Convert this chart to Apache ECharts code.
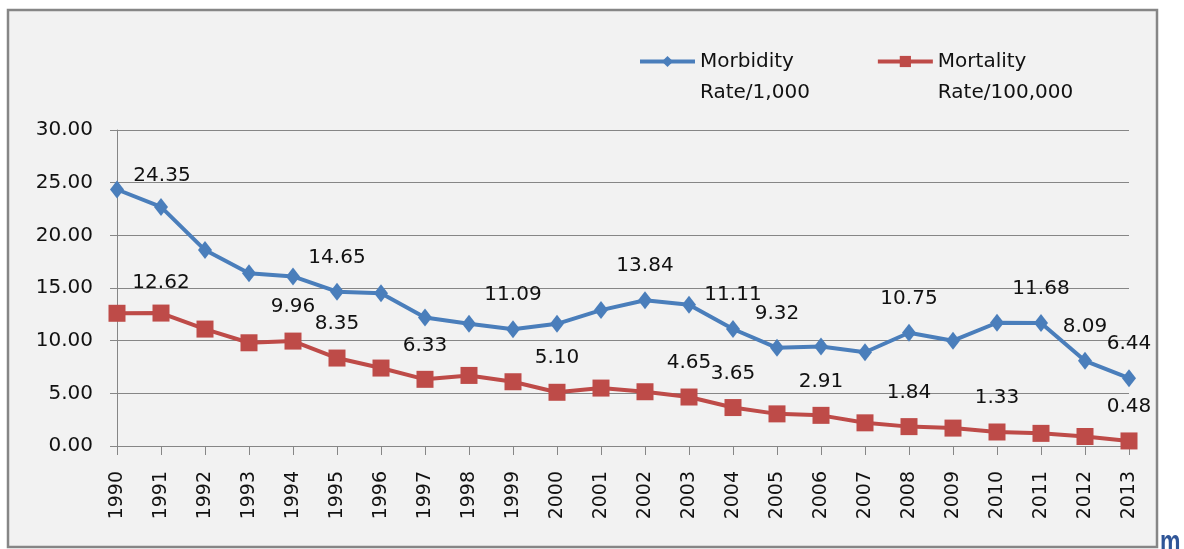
<!DOCTYPE html>
<html>
<head>
<meta charset="utf-8">
<script src="https://cdn.jsdelivr.net/npm/echarts@6/dist/echarts.min.js"></script>
<style>
  html, body { margin: 0; padding: 0; background: #ffffff; }
  #chart { width: 1184px; height: 549px; }
</style>
</head>
<body>
<div id="chart"></div>
<script>
// years on the x axis
const years = ['1990', '1991', '1992', '1993', '1994', '1995', '1996', '1997', '1998', '1999', '2000', '2001',
  '2002', '2003', '2004', '2005', '2006', '2007', '2008', '2009', '2010', '2011', '2012', '2013']

// morbidity rate per 1,000 (labelled points exact, others)
const morbidity = [24.35, 22.7, 18.6, 16.4, 16.1, 14.65, 14.5, 12.2, 11.6, 11.09, 11.6, 12.9,
  13.84, 13.4, 11.11, 9.32, 9.45, 8.9, 10.75, 10.0, 11.7, 11.68, 8.09, 6.44]

// mortality rate per 100,000
const mortality = [12.6, 12.62, 11.1, 9.8, 9.96, 8.35, 7.4, 6.33, 6.7, 6.1, 5.10, 5.5,
  5.15, 4.65, 3.65, 3.05, 2.91, 2.2, 1.84, 1.7, 1.33, 1.2, 0.9, 0.48]

// which points carry a value label
const morbidityLabelled = [0, 5, 9, 12, 14, 15, 18, 21, 22, 23]
const mortalityLabelled = [1, 4, 5, 7, 10, 13, 14, 16, 18, 20, 23]

const yTicks = [0, 5, 10, 15, 20, 25, 30]

const FONT = 'DejaVu Sans'
const BLUE = '#4a7ebb'
const RED = '#be4b48'
const GRID_COLOR = '#868686'

function buildData(values, labelled, special) {
  return values.map((v, i) => {
    const item = { value: v, label: { show: labelled.includes(i) } }
    if (special && special[i]) item.label.offset = special[i]
    return item
  })
}

const labelStyle = {
  position: 'inside',
  offset: [0, -34],
  color: '#111',
  fontFamily: FONT,
  fontSize: 20,
  formatter: (p) => p.value.toFixed(2),
}

const chart = echarts.init(document.getElementById('chart'))

const option = {
  backgroundColor: '#ffffff',
  animation: false,
  graphic: [
    {
      type: 'rect',
      z: -10,
      shape: { x: 8, y: 10, width: 1149, height: 537 },
      style: { fill: '#f2f2f2', stroke: GRID_COLOR, lineWidth: 2.5 },
    },
    {
      type: 'text',
      x: 1160,
      y: 527,
      scaleX: 0.72,
      style: { text: 'm', fill: '#2f5597', font: 'bold 32px "Liberation Sans"' },
    },
  ],
  legend: {
    left: 638,
    top: 15,
    padding: 0,
    itemWidth: 55,
    itemHeight: 14,
    itemGap: 66,
    lineStyle: { width: 4 },
    // leading empty line keeps the icon level with the first text line
    formatter: (name) => '\n' + name,
    textStyle: {
      fontFamily: FONT,
      fontSize: 20,
      color: '#111',
      lineHeight: 31,
    },
    data: ['Morbidity\nRate/1,000', 'Mortality\nRate/100,000'],
  },
  grid: { left: 117, right: 55, top: 130, bottom: 103 },
  xAxis: {
    type: 'category',
    data: years,
    boundaryGap: false,
    axisLine: { lineStyle: { color: GRID_COLOR, width: 1 } },
    axisTick: { show: true, length: 9, lineStyle: { color: GRID_COLOR } },
    axisLabel: { rotate: 90, margin: 25, fontFamily: FONT, fontSize: 19, color: '#111' },
  },
  yAxis: {
    type: 'value',
    min: yTicks[0],
    max: yTicks[yTicks.length - 1],
    interval: yTicks[1] - yTicks[0],
    axisLine: { show: true, lineStyle: { color: GRID_COLOR, width: 1 } },
    axisTick: { show: true, length: 7, lineStyle: { color: GRID_COLOR } },
    splitLine: { lineStyle: { color: GRID_COLOR, width: 1 } },
    axisLabel: {
      margin: 24,
      fontFamily: FONT,
      fontSize: 20,
      color: '#111',
      formatter: (v) => v.toFixed(2),
    },
  },
  series: [
    {
      name: 'Morbidity\nRate/1,000',
      type: 'line',
      data: buildData(morbidity, morbidityLabelled, { 0: [45, -14] }),
      symbol: 'diamond',
      symbolSize: [14, 18],
      showAllSymbol: true,
      lineStyle: { color: BLUE, width: 4 },
      itemStyle: { color: BLUE },
      label: labelStyle,
    },
    {
      name: 'Mortality\nRate/100,000',
      type: 'line',
      data: buildData(mortality, mortalityLabelled, { 1: [0, -30] }),
      symbol: 'rect',
      symbolSize: 17,
      showAllSymbol: true,
      lineStyle: { color: RED, width: 4 },
      itemStyle: { color: RED },
      label: labelStyle,
    },
  ],
}

chart.setOption(option)
</script>
</body>
</html>
